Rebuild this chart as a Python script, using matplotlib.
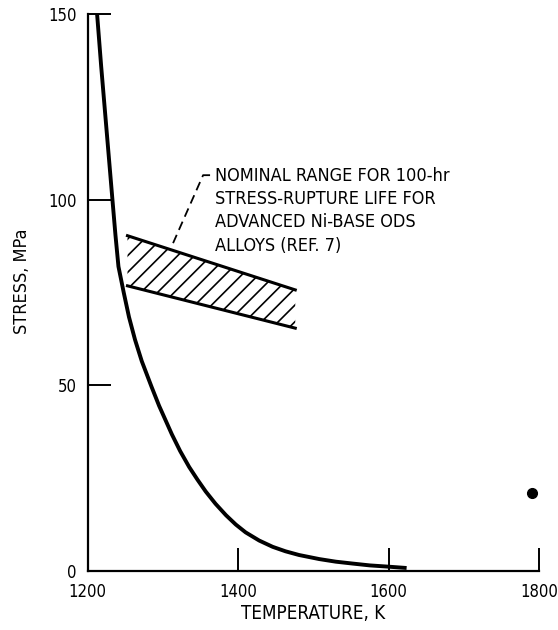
import numpy as np
import matplotlib
matplotlib.use("Agg")
from matplotlib import pyplot as plt

plt.rcParams["font.family"] = ["DejaVu Sans"]
plt.rcParams["font.stretch"] = "condensed"
plt.rcParams["hatch.linewidth"] = 1.2

# stress-rupture curve
temp = [1212.6, 1218, 1223, 1228, 1233, 1237, 1241, 1248, 1255, 1263,
        1272, 1285, 1295, 1312, 1323, 1335, 1346, 1357, 1370, 1384,
        1397, 1410, 1428, 1446, 1463, 1481, 1508, 1530, 1552, 1575,
        1597, 1624]
stress = [150, 136, 124, 112, 100, 90.5, 82, 75, 68.4, 62.3,
          56.5, 49.6, 44.5, 36.8, 32.3, 28, 24.6, 21.4, 18.1, 15,
          12.5, 10.4, 8.2, 6.5, 5.3, 4.3, 3.2, 2.5, 2.0, 1.5,
          1.2, 0.8]

# nominal range band for ODS alloys
band_t = [1253, 1476]
band_hi = [90.3, 75.7]
band_lo = [76.8, 65.4]

# single data point
dot_t = [1791]
dot_s = [21]

# leader from band to note
lead_t = [1313.6, 1353.5, 1362.8]
lead_s = [88.3, 106.6, 106.6]
note = ("NOMINAL RANGE FOR 100-hr\nSTRESS-RUPTURE LIFE FOR\n"
        "ADVANCED Ni-BASE ODS\nALLOYS (REF. 7)")

xticks = [1200, 1400, 1600, 1800]
yticks = [0, 50, 100, 150]

fig = plt.figure(figsize=(5.58, 6.30), dpi=100)
ax = fig.add_axes([0.157, 0.0937, 0.809, 0.884])

ax.plot(temp, stress, color="black", lw=2.8, solid_capstyle="butt")

ax.fill_between(band_t, band_lo, band_hi, facecolor="none",
                edgecolor="black", hatch="//", linewidth=0)
ax.plot(band_t, band_hi, color="black", lw=2.2)
ax.plot(band_t, band_lo, color="black", lw=2.2)

ax.plot(dot_t, dot_s, "o", color="black", markersize=7, clip_on=False)

ax.plot(lead_t, lead_s, color="black", lw=1.3, dashes=(5, 3))
ax.text(1369.5, 108.9, note, fontsize=13, va="top", ha="left",
        linespacing=1.38)

ax.set_xlim(1200, 1800)
ax.set_ylim(0, 150)
ax.set_xticks(xticks)
ax.set_yticks(yticks)
ax.tick_params(direction="in", length=16.5, width=1.4, labelsize=12)
ax.tick_params(axis="y", pad=8)
ax.tick_params(axis="x", pad=9)

for s in ["top", "right"]:
    ax.spines[s].set_visible(False)
for s in ["left", "bottom"]:
    ax.spines[s].set_linewidth(1.6)

ax.set_xlabel("TEMPERATURE, K", fontsize=13.5, labelpad=2)
ax.set_ylabel("STRESS, MPa", fontsize=13)
ax.yaxis.set_label_coords(-0.125, 0.52)

fig.savefig("out.png", dpi=100)
